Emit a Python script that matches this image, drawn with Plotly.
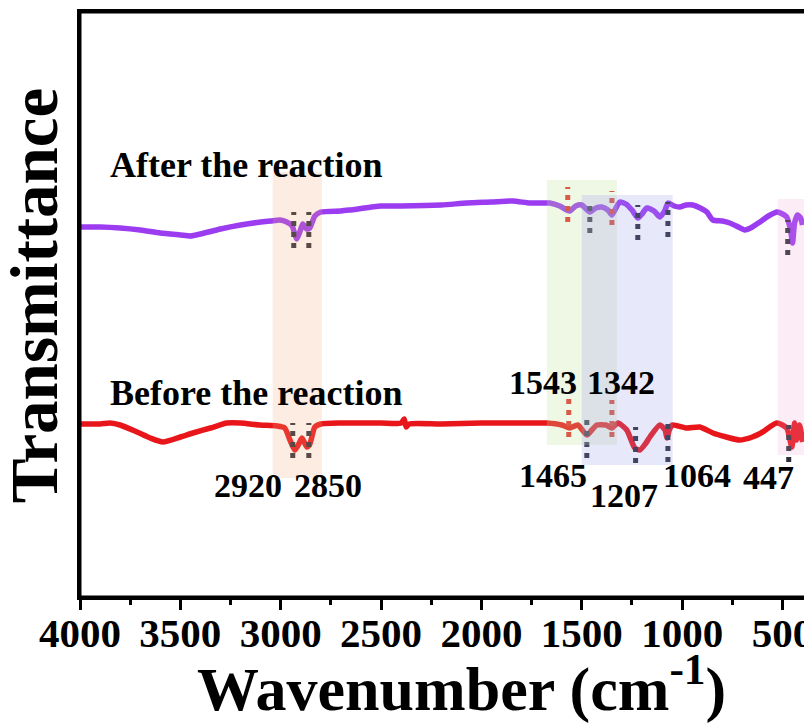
import plotly.graph_objects as go

# ---------------- data (arbitrary transmittance units) ----------------
after_wn = [4000, 3900, 3800, 3700, 3600, 3500, 3450, 3400, 3300, 3200, 3100, 3050, 3004, 2970,
            2943, 2930, 2920, 2905, 2890, 2870, 2855, 2830, 2800, 2700, 2655, 2500, 2400, 2200,
            2073, 1950, 1844, 1760, 1700, 1660, 1610, 1575, 1560, 1530, 1500, 1460, 1430, 1400,
            1370, 1350, 1330, 1310, 1280, 1250, 1220, 1200, 1176, 1140, 1110, 1085, 1070, 1040,
            1012, 980, 947, 910, 877, 847, 800, 763, 720, 688, 650, 613, 570, 527, 500, 479, 460,
            450, 440, 425, 410, 400]
after_t = [370, 370, 369, 367, 364, 362, 361, 363, 368, 372, 375, 376, 377, 375,
           371, 363, 358, 365, 373, 368, 369, 381, 385, 386, 387, 391, 391, 392,
           394, 395, 396, 394, 394, 394, 391, 387, 386, 391, 392, 385, 389, 390,
           387, 382, 389, 395, 393, 387, 379, 383, 389, 386, 380, 387, 394, 391,
           390, 392, 392, 389, 385, 377, 376, 374, 370, 367, 370, 375, 381, 385, 383, 380, 367,
           354, 374, 382, 379, 372]

before_wn = [4000, 3900, 3851, 3800, 3716, 3650, 3587, 3500, 3437, 3350, 3268, 3200, 3104, 3019,
             2980, 2954, 2930, 2910, 2894, 2870, 2855, 2830, 2800, 2700, 2500, 2400, 2385, 2375,
             2360, 2200, 2000, 1908, 1800, 1674, 1600, 1560, 1520, 1475, 1450, 1425, 1380, 1350,
             1320, 1276, 1236, 1211, 1180, 1161, 1111, 1085, 1076, 1064, 1050, 978, 912, 847, 780,
             714, 650, 599, 529, 479, 454, 440, 430, 415, 400]
before_t = [173, 173, 174, 172, 165, 159, 155, 160, 164, 169, 174, 174, 172, 171,
            169, 157, 147, 153, 159, 150, 153, 170, 173, 174, 174, 174, 178, 170,
            173, 173, 174, 174, 174, 174, 172, 169, 172, 162, 167, 172, 172, 169,
            174, 167, 149, 147, 154, 160, 172, 167, 159, 167, 172, 169, 170, 164, 160,
            157, 160, 165, 174, 169, 150, 174, 157, 172, 155]

# marker lines: wavenumber, bottom, top, colour key
mark_wn = [2935, 2860, 1460, 1221, 1071, 474, 1570, 1350,
           2940, 2860, 1475, 1232, 1071, 469, 1565, 1350]
mark_lo = [349, 349, 364, 357, 360, 342, 375, 372,
           139, 139, 139, 134, 135, 135, 160, 160]
mark_hi = [385, 385, 397, 392, 395, 377, 410, 406,
           174, 174, 177, 170, 175, 172, 199, 197]
mark_kind = ["k", "k", "k", "k", "k", "k", "r", "r",
             "k", "k", "k", "k", "k", "k", "r", "r"]

# shaded bands: wn start, wn end, bottom, top, colour
band_x0 = [3040, 1674, 1500, 524]
band_x1 = [2795, 1325, 1047, 380]
band_y0 = [119, 152, 132, 142]
band_y1 = [425, 417, 402, 398]
band_col = ["rgba(240,170,120,0.22)", "rgba(190,225,150,0.25)",
            "rgba(150,150,235,0.22)", "rgba(235,160,210,0.2)"]

peak_labels = ["2920", "2850", "1543", "1342", "1465", "1207", "1064", "447"]
peak_lab_x = [3163, 2765, 1694, 1306, 1644, 1291, 927, 569]
peak_lab_y = [112, 112, 215, 215, 122, 102, 122, 120]

series_names = ["After the reaction", "Before the reaction"]
series_lab_x = [3861, 3861]
series_lab_y = [432, 204]

x_ticks = [4000, 3500, 3000, 2500, 2000, 1500, 1000, 500]

FONT = "Liberation Serif, Times New Roman, serif"

fig = go.Figure()
fig.add_trace(go.Scatter(x=after_wn, y=after_t, mode="lines",
                         line=dict(color="#9b3cf0", width=5.5, shape="spline", smoothing=0.6),
                         showlegend=False))
fig.add_trace(go.Scatter(x=before_wn, y=before_t, mode="lines",
                         line=dict(color="#e8161a", width=5.5, shape="spline", smoothing=0.6),
                         showlegend=False))

for wn, lo, hi, k in zip(mark_wn, mark_lo, mark_hi, mark_kind):
    col = "#2b2f3a" if k == "k" else "#e0302a"
    fig.add_shape(type="line", x0=wn, x1=wn, y0=lo, y1=hi, xref="x", yref="y",
                  line=dict(color=col, width=5, dash="5px,6px"), layer="above")

for x0, x1, y0, y1, c in zip(band_x0, band_x1, band_y0, band_y1, band_col):
    fig.add_shape(type="rect", x0=x0, x1=x1, y0=y0, y1=y1, xref="x", yref="y",
                  fillcolor=c, line=dict(width=0), layer="above")

# plot frame
fig.add_shape(type="rect", x0=0, x1=1, y0=0, y1=1, xref="paper", yref="paper",
              line=dict(color="black", width=3), fillcolor="rgba(0,0,0,0)", layer="above")

for t, x, y in zip(peak_labels, peak_lab_x, peak_lab_y):
    fig.add_annotation(x=x, y=y, text=t, showarrow=False, xanchor="center", yanchor="middle",
                       font=dict(family=FONT, size=34, color="black", weight="bold"))

for t, x, y in zip(series_names, series_lab_x, series_lab_y):
    fig.add_annotation(x=x, y=y, text=t, showarrow=False, xanchor="left", yanchor="middle",
                       font=dict(family=FONT, size=36, color="black", weight="bold"))

# axis titles as annotations (placed in paper coords)
fig.add_annotation(x=0.525, y=-0.15, xref="paper", yref="paper", showarrow=False,
                   text="Wavenumber (cm<sup>-1</sup>)", xanchor="center", yanchor="middle",
                   font=dict(family=FONT, size=62, color="black", weight="bold"))
fig.add_annotation(x=-0.063, y=0.516, xref="paper", yref="paper", showarrow=False,
                   text="Transmittance", textangle=-90, xanchor="center", yanchor="middle",
                   font=dict(family=FONT, size=67, color="black", weight="bold"))

# the page body adds an 8px offset, so the figure is sized 8px smaller
fig.update_layout(
    width=804, height=719,
    margin=dict(l=72, r=5, t=4, b=130),
    plot_bgcolor="white", paper_bgcolor="white",
    xaxis=dict(range=[4000, 378], tickvals=x_ticks, ticks="outside", ticklen=10, tickwidth=3,
               tickcolor="black", showline=True, linewidth=3, linecolor="black", mirror=True,
               showgrid=False, zeroline=False, automargin=False, ticklabelstandoff=-12,
               ticklabeloverflow="allow",
               minor=dict(dtick=250, ticks="outside", ticklen=5, tickwidth=3, tickcolor="black"),
               tickfont=dict(family=FONT, size=41, color="black", weight="bold")),
    yaxis=dict(range=[0, 585], showticklabels=False, ticks="", showline=True, linewidth=3,
               linecolor="black", mirror=True, showgrid=False, zeroline=False, automargin=False),
)

fig.write_html("out.html")
